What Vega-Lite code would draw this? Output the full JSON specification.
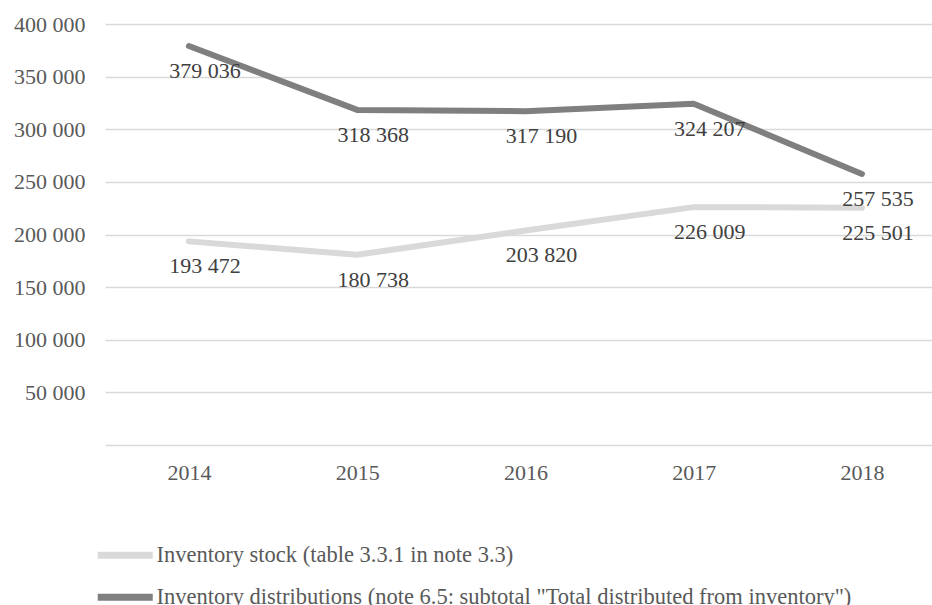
{
  "$schema": "https://vega.github.io/schema/vega-lite/v6.json",
  "width": 827,
  "height": 421,
  "autosize": {"type": "none"},
  "padding": {"left": 105, "top": 24, "right": 0, "bottom": 160},
  "background": "white",
  "config": {
    "locale": {"number": {"decimal": ".", "thousands": " ", "grouping": [3], "currency": ["", ""]}},
    "view": {"stroke": null},
    "font": "Liberation Serif"
  },
  "data": {
    "values": [
      {"year": "2014", "series": "Inventory stock (table 3.3.1 in note 3.3)", "value": 193472},
      {"year": "2015", "series": "Inventory stock (table 3.3.1 in note 3.3)", "value": 180738},
      {"year": "2016", "series": "Inventory stock (table 3.3.1 in note 3.3)", "value": 203820},
      {"year": "2017", "series": "Inventory stock (table 3.3.1 in note 3.3)", "value": 226009},
      {"year": "2018", "series": "Inventory stock (table 3.3.1 in note 3.3)", "value": 225501},
      {"year": "2014", "series": "Inventory distributions (note 6.5: subtotal \"Total distributed from inventory\")", "value": 379036},
      {"year": "2015", "series": "Inventory distributions (note 6.5: subtotal \"Total distributed from inventory\")", "value": 318368},
      {"year": "2016", "series": "Inventory distributions (note 6.5: subtotal \"Total distributed from inventory\")", "value": 317190},
      {"year": "2017", "series": "Inventory distributions (note 6.5: subtotal \"Total distributed from inventory\")", "value": 324207},
      {"year": "2018", "series": "Inventory distributions (note 6.5: subtotal \"Total distributed from inventory\")", "value": 257535}
    ]
  },
  "encoding": {
    "x": {
      "field": "year",
      "type": "ordinal",
      "scale": {"type": "point", "padding": 0.4577, "align": 0.545},
      "axis": {
        "title": null,
        "domain": false,
        "ticks": false,
        "labelAngle": 0,
        "labelFont": "Liberation Serif",
        "labelFontSize": 22,
        "labelColor": "#595959",
        "labelPadding": 17
      }
    },
    "y": {
      "field": "value",
      "type": "quantitative",
      "scale": {"domain": [0, 400000], "nice": false},
      "axis": {
        "title": null,
        "domain": false,
        "ticks": false,
        "values": [0, 50000, 100000, 150000, 200000, 250000, 300000, 350000, 400000],
        "labelExpr": "datum.value == 0 ? '' : format(datum.value, ',')",
        "gridColor": "#d9d9d9",
        "gridWidth": 1.5,
        "labelFont": "Liberation Serif",
        "labelFontSize": 22,
        "labelColor": "#595959",
        "labelPadding": 20
      }
    }
  },
  "layer": [
    {
      "mark": {"type": "line", "strokeWidth": 6, "strokeCap": "round", "strokeJoin": "round"},
      "encoding": {
        "color": {
          "field": "series",
          "type": "nominal",
          "scale": {
            "domain": ["Inventory stock (table 3.3.1 in note 3.3)", "Inventory distributions (note 6.5: subtotal \"Total distributed from inventory\")"],
            "range": ["#d9d9d9", "#7f7f7f"]
          },
          "legend": {
            "title": null,
            "orient": "none",
            "legendX": 9,
            "legendY": 520,
            "direction": "vertical",
            "symbolType": "M-5,0L5,0",
            "symbolSize": 121,
            "symbolStrokeWidth": 7,
            "labelOffset": 20,
            "labelFont": "Liberation Serif",
            "labelFontSize": 22.5,
            "labelColor": "#595959",
            "labelLimit": 900,
            "rowPadding": 13,
            "padding": 0
          }
        }
      }
    },
    {
      "mark": {"type": "text", "dx": 16, "dy": 25, "fontSize": 22, "font": "Liberation Serif", "color": "#404040"},
      "encoding": {
        "text": {"field": "value", "type": "quantitative", "format": ","}
      }
    }
  ]
}
